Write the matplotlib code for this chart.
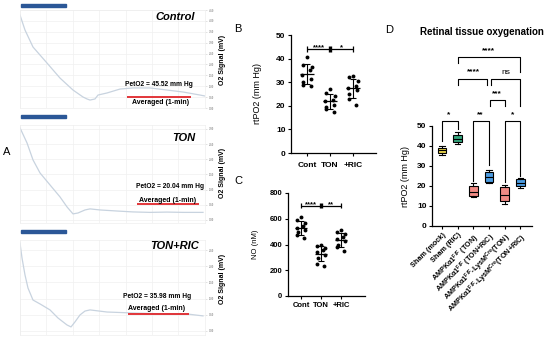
import numpy as np
import matplotlib.pyplot as plt
from matplotlib.patches import Rectangle

plt.rcParams['font.family'] = ['Liberation Sans', 'DejaVu Sans']
plt.rcParams['font.weight'] = 'bold'
plt.rcParams['mathtext.default'] = 'regular'

W, H = 550, 342

# ---- A: O2 traces (time in s, signal in mV)
ctrl_t = [0, 5, 13, 27, 40, 53, 63, 67, 70, 75, 78, 87, 100, 113, 130, 147, 163, 180, 185]
ctrl_y = [8.54, 7.16, 5.60, 4.13, 2.75, 1.65, 1.01, 0.83, 0.73, 0.83, 1.19, 1.38, 1.74,
          1.84, 1.84, 1.65, 1.47, 1.19, 1.10]
ton_t = [0, 7, 13, 20, 30, 40, 47, 53, 58, 65, 70, 80, 97, 113, 130, 147, 163, 183]
ton_y = [6.07, 5.08, 3.96, 3.10, 2.31, 1.52, 0.86, 0.40, 0.46, 0.66, 0.73, 0.66, 0.59,
         0.53, 0.50, 0.52, 0.50, 0.50]
ric_t = [0, 2, 5, 8, 13, 20, 30, 38, 47, 51, 55, 60, 65, 70, 87, 113, 147, 167, 183]
ric_y = [5.43, 4.51, 3.46, 2.65, 1.91, 1.67, 1.30, 0.80, 0.37, 0.25, 0.56, 0.99, 1.23,
         1.30, 1.17, 1.11, 1.05, 1.05, 0.93]
pet_o2 = ['45.52', '20.04', '35.98']
trace_names = ['Control', 'TON', 'TON+RIC']

# ---- B / C: scatter with mean +/- SD
groups = ['Cont', 'TON', '+RIC']
b_cont = [40.5, 37.5, 36.5, 35, 33, 31.5, 30, 29, 28.5]
b_ton = [27, 25.5, 24, 22.5, 22, 20.5, 19.5, 18.5, 17.5]
b_ric = [32.5, 32, 30.5, 28.5, 27.5, 26.5, 25, 23, 20.5]
c_cont = [610, 590, 570, 545, 530, 515, 495, 470, 450]
c_ton = [400, 390, 370, 355, 340, 320, 295, 250, 230]
c_ric = [510, 495, 480, 460, 445, 425, 400, 380, 350]
jit = [0.0, -0.18, 0.2, 0.12, -0.2, 0.18, -0.16, -0.18, 0.15]

# ---- D: box plot (min, q1, median, q3, max)
d_labels = ['Sham (mock)', 'Sham (RIC)', 'AMPKα1$^{F/F}$ (TON)', 'AMPKα1$^{F/F}$ (TON+RIC)',
            'AMPKα1$^{F/F}$-LysM$^{Cre}$(TON)', 'AMPKα1$^{F/F}$-LysM$^{Cre}$(TON+RIC)']
d_min = [35.5, 41, 14.5, 21.3, 11, 19]
d_q1 = [36.5, 42, 15.2, 22, 12.5, 20]
d_med = [37.8, 43.5, 16.8, 24.6, 15.5, 21.5]
d_q3 = [39, 45.5, 19.8, 27, 19.5, 23.3]
d_max = [39.8, 47, 21.3, 27.8, 20.5, 24]
d_colors = ['#e7d24a', '#34a57c', '#f08a84', '#4c9be0', '#f08a84', '#4c9be0']


def rect(l, t, r, b):
    return [l / W, 1 - b / H, (r - l) / W, (b - t) / H]


def ftext(x, y, s, **kw):
    fig.text(x / W, 1 - y / H, s, ha='center', va='center', **kw)


fig = plt.figure(figsize=(5.5, 3.42), dpi=100)

# ---------------- A ----------------
a_rects = [(20, 10, 205, 108), (20, 125, 205, 223), (20, 240, 205, 335)]
a_ylims = [(0, 9), (-0.2, 6.26), (-0.25, 5.62)]
a_traces = [(ctrl_t, ctrl_y), (ton_t, ton_y), (ric_t, ric_y)]
red_y = [1.01, 1.05, 1.05]
red_x = [(107, 171), (117, 179), (108, 169)]
bar_y = [4, 115, 230]
name_pos = [(175, 17), (184, 138), (175, 246)]
pet_pos = [(159, 84), (170, 186), (157, 296)]
avg_pos = [(161, 103), (168, 200), (157, 308)]
sig_lab_y = [60, 173, 279]

for i in range(3):
    ax = fig.add_axes(rect(*a_rects[i]))
    t, y = a_traces[i]
    ax.plot(t, y, color='#c8d3df', lw=0.9)
    ax.hlines(red_y[i], red_x[i][0], red_x[i][1], color='#e0262b', lw=1.3)
    ax.set_xlim(0, 185)
    ax.set_ylim(*a_ylims[i])
    ax.set_xticks(np.arange(0, 186, 26.4))
    ax.set_yticks(np.arange(0, int(a_ylims[i][1]) + 1))
    ax.set_yticklabels(['%.2f' % (0.5 * v) for v in range(int(a_ylims[i][1]) + 1)])
    ax.yaxis.tick_right()
    ax.tick_params(axis='y', length=1.5, width=0.4, color='#cccccc', labelsize=2,
                   labelcolor='#999999', pad=1)
    ax.tick_params(axis='x', length=0, labelbottom=False)
    ax.grid(True, color='#f0f0f0', lw=0.5)
    for s in ax.spines.values():
        s.set_color('#eeeeee')
        s.set_linewidth(0.5)
    fig.patches.append(Rectangle((21 / W, 1 - (bar_y[i] + 3) / H), 45 / W, 3 / H,
                                 transform=fig.transFigure, color='#2b5797'))
    ftext(*name_pos[i], trace_names[i], fontsize=8, style='italic')
    ftext(*pet_pos[i], 'PetO2 = %s mm Hg' % pet_o2[i], fontsize=4.8)
    ftext(*avg_pos[i], 'Averaged (1-min)', fontsize=5)
    ftext(222, sig_lab_y[i], 'O2 Signal (mV)', fontsize=5, rotation=90)

ftext(7, 152, 'A', fontsize=8, weight='normal')
ftext(238, 29, 'B', fontsize=8, weight='normal')
ftext(238, 181, 'C', fontsize=8, weight='normal')
ftext(389, 30, 'D', fontsize=8, weight='normal')


def dot_panel(ax, series, fs):
    for i, vals in enumerate(series):
        x = i + np.array(jit)
        ax.plot(x, vals, 'o', ms=2.8, color='k', mew=0)
        m = np.mean(vals)
        s = np.std(vals, ddof=1)
        ax.hlines(m, i - 0.3, i + 0.3, color='k', lw=0.9)
        ax.errorbar(i, m, yerr=s, color='k', lw=0.8, capsize=2, capthick=0.8)
    ax.set_xticks(range(3))
    ax.set_xticklabels(groups)
    ax.spines[['top', 'right']].set_visible(False)
    ax.spines[['left', 'bottom']].set_linewidth(0.9)
    ax.tick_params(labelsize=fs, length=2.5, width=0.8, pad=1.5)


def sig_bar(ax, y, h, labs, fs):
    ax.hlines(y, 0, 2, color='k', lw=0.9)
    ax.vlines([0, 2], y - h, y + h, color='k', lw=0.9)
    ax.vlines(1, y - h, y + h, color='k', lw=2.4)
    ax.text(0.5, y + h * 0.4, labs[0], ha='center', va='center', fontsize=fs)
    ax.text(1.5, y + h * 0.4, labs[1], ha='center', va='center', fontsize=fs)


# ---------------- B ----------------
axb = fig.add_axes(rect(291, 35, 376, 153))
dot_panel(axb, [b_cont, b_ton, b_ric], 6)
axb.set_ylim(0, 50)
axb.set_xlim(-0.7, 3.0)
axb.set_yticks(range(0, 51, 10))
axb.set_ylabel('rtPO2 (mm Hg)', fontsize=6.5)
axb.yaxis.set_label_coords(-0.34, 0.5)
axb.tick_params(axis='x', pad=4)
sig_bar(axb, 44, 1.4, ['****', '*'], 5.5)

# ---------------- C ----------------
axc = fig.add_axes(rect(288, 193, 365, 296))
dot_panel(axc, [c_cont, c_ton, c_ric], 5.5)
axc.set_ylim(0, 800)
axc.set_xlim(-0.65, 3.2)
axc.set_yticks(range(0, 801, 200))
axc.set_ylabel('NO (nM)', fontsize=5.5)
axc.yaxis.set_label_coords(-0.377, 0.5)
sig_bar(axc, 700, 20, ['****', '**'], 5.5)

# ---------------- D ----------------
axd = fig.add_axes(rect(432, 45, 532, 226))
stats = [dict(whislo=d_min[i], q1=d_q1[i], med=d_med[i], q3=d_q3[i], whishi=d_max[i])
         for i in range(6)]
bp = axd.bxp(stats, positions=range(6), widths=0.55, patch_artist=True, showfliers=False,
             boxprops=dict(lw=0.8), whiskerprops=dict(lw=0.8), capprops=dict(lw=0.8),
             medianprops=dict(color='k', lw=0.8), capwidths=0.35)
for patch, c in zip(bp['boxes'], d_colors):
    patch.set_facecolor(c)
axd.set_xlim(-0.64, 5.75)
axd.set_ylim(0, 90.5)
axd.set_yticks(range(0, 51, 10))
axd.spines[['top', 'right']].set_visible(False)
axd.spines['left'].set_bounds(0, 50)
axd.spines[['left', 'bottom']].set_linewidth(0.9)
axd.tick_params(labelsize=6, length=2.5, width=0.8, pad=1.5)
axd.set_xticks(range(6))
axd.set_xticklabels(d_labels, rotation=45, ha='right', rotation_mode='anchor', fontsize=5.2)
axd.set_ylabel('rtPO2 (mm Hg)', fontsize=6.5)
axd.yaxis.set_label_coords(-0.22, 0.276)

brackets = [
    (0, 1, 52.7, 42.5, 48.5, '*', 0.45, 55.5),
    (2, 3, 52.7, 22.5, 30.5, '**', 2.43, 55.5),
    (4, 5, 52.7, 21.8, 25.0, '*', 4.5, 55.5),
    (3.05, 4, 63, 60, 60, '***', 3.5, 66.3),
    (1, 2.85, 73.5, 70.5, 70.5, '****', 2.0, 77),
    (3.15, 5, 73.5, 70.5, 60, 'ns', 4.1, 77),
    (1, 5, 84.3, 81.3, 77.2, '****', 3.0, 87.7),
]
for x1, x2, y, y1, y2, lab, tx, ty in brackets:
    axd.plot([x1, x1, x2, x2], [y1, y, y, y2], color='k', lw=0.8)
    axd.text(tx, ty, lab, ha='center', va='center', fontsize=6,
             weight='normal' if lab == 'ns' else 'bold')

ftext(482, 32, 'Retinal tissue oxygenation', fontsize=7)

fig.savefig('out.png', dpi=100)
